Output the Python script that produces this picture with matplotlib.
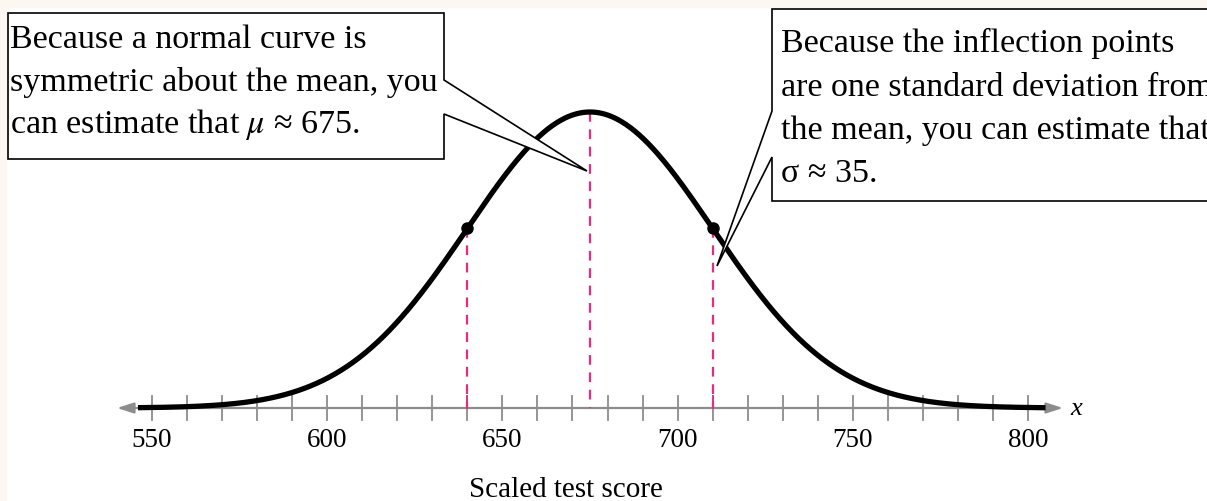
import numpy as np
import matplotlib
matplotlib.use('Agg')
import matplotlib.pyplot as plt
from matplotlib.patches import Polygon, Rectangle
from matplotlib.transforms import Affine2D

plt.rcParams['font.family'] = ['Liberation Serif', 'DejaVu Serif']
plt.rcParams['mathtext.fontset'] = 'stix'
plt.rcParams['lines.scale_dashes'] = False

# данные
MU = 675
SIGMA = 35
tick_values = list(range(550, 801, 10))
label_values = [550, 600, 650, 700, 750, 800]
marked_points = [MU - SIGMA, MU + SIGMA]   # точки перегиба
curve_range = (546, 805)
axis_range = (540, 810)
xlabel_pos = 668

left_lines = ['Because a normal curve is',
              'symmetric about the mean, you',
              'can estimate that $\\mu$ \u2248 675.']
right_lines = ['Because the inflection points',
               'are one standard deviation from',
               'the mean, you can estimate that',
               '\u03c3 \u2248 35.']

PINK = '#E62B82'
GRAY = '#8C8C8C'
W, H = 1207, 502

def pdf(x):
    return np.exp(-(x - MU) ** 2 / (2 * SIGMA ** 2)) / (SIGMA * np.sqrt(2 * np.pi))

fig = plt.figure(figsize=(W / 100, H / 100), dpi=100)
ax = fig.add_axes([0, 0, 1, 1])
ax.set_axis_off()

# масштаб: 550 -> 152 px, 800 -> 1028 px; ось на 409 px, вершина на 113 px
px_per_unit = (1028 - 152) / 250
x0 = 550 - 152 / px_per_unit
ax.set_xlim(x0, x0 + W / px_per_unit)
peak = pdf(MU)
py_per_unit = (409 - 113) / peak
ax.set_ylim(-(H - 409) / py_per_unit, 409 / py_per_unit)

# пиксельная система координат (от верхнего левого угла)
pix = Affine2D().scale(1 / W, -1 / H).translate(0, 1) + fig.transFigure

# рамка фона
fig.patches.append(Rectangle((0, 0), 6, H, transform=pix, color='#FCF7F1', zorder=0))
fig.patches.append(Rectangle((0, 0), W, 8, transform=pix, color='#FCF7F1', zorder=0))

# ось x со стрелками
ax.annotate('', xy=(axis_range[1], 0), xytext=(axis_range[0], 0),
            arrowprops=dict(arrowstyle='<|-|>,head_length=1.0,head_width=0.32',
                            color=GRAY, lw=1.6, shrinkA=0, shrinkB=0))
tick_h = 12 / py_per_unit
for t in tick_values:
    ax.plot([t, t], [-tick_h, tick_h], color=GRAY, lw=1.3, zorder=2)
for t in marked_points:
    ax.plot([t, t], [0, tick_h], color=PINK, lw=1.3, zorder=3)

for t in label_values:
    ax.text(t, -32 / py_per_unit, str(t), ha='center', va='center', fontsize=19.5)
ax.text(xlabel_pos, -81 / py_per_unit, 'Scaled test score', ha='center', va='center',
        fontsize=21)
ax.text(axis_range[1] + 2, 0, 'x', ha='left', va='center', fontsize=19, style='italic')

# штриховые линии
ax.plot([MU, MU], [peak, 0], color=PINK, lw=1.6, dashes=(7, 5.5), zorder=3)
for t in marked_points:
    ax.plot([t, t], [pdf(t), 0], color=PINK, lw=1.6, dashes=(7, 5.5), zorder=3)

# нормальная кривая
xs = np.linspace(curve_range[0], curve_range[1], 600)
ax.plot(xs, pdf(xs), color='black', lw=3.8, solid_capstyle='butt', zorder=4)
ax.plot(marked_points, pdf(np.array(marked_points)), 'o', color='black', ms=8, zorder=5)

# выноски
left_box = [(8, 14), (444, 14), (444, 81), (587, 172), (444, 115),
            (444, 160), (8, 160)]
right_box = [(772, 10), (1215, 10), (1215, 202), (772, 202), (772, 158),
             (717, 267), (772, 112)]
for pts in (left_box, right_box):
    fig.patches.append(Polygon(pts, closed=True, transform=pix, facecolor='white',
                               edgecolor='black', lw=1.2, zorder=6))

for i, line in enumerate(left_lines):
    fig.text(10, 48 + i * 42.5, line, transform=pix, fontsize=24.5,
             va='baseline', ha='left', zorder=7)
for i, line in enumerate(right_lines):
    fig.text(781, 52 + i * 43.5, line, transform=pix, fontsize=24.5,
             va='baseline', ha='left', zorder=7)

fig.savefig('out.png', dpi=100)
